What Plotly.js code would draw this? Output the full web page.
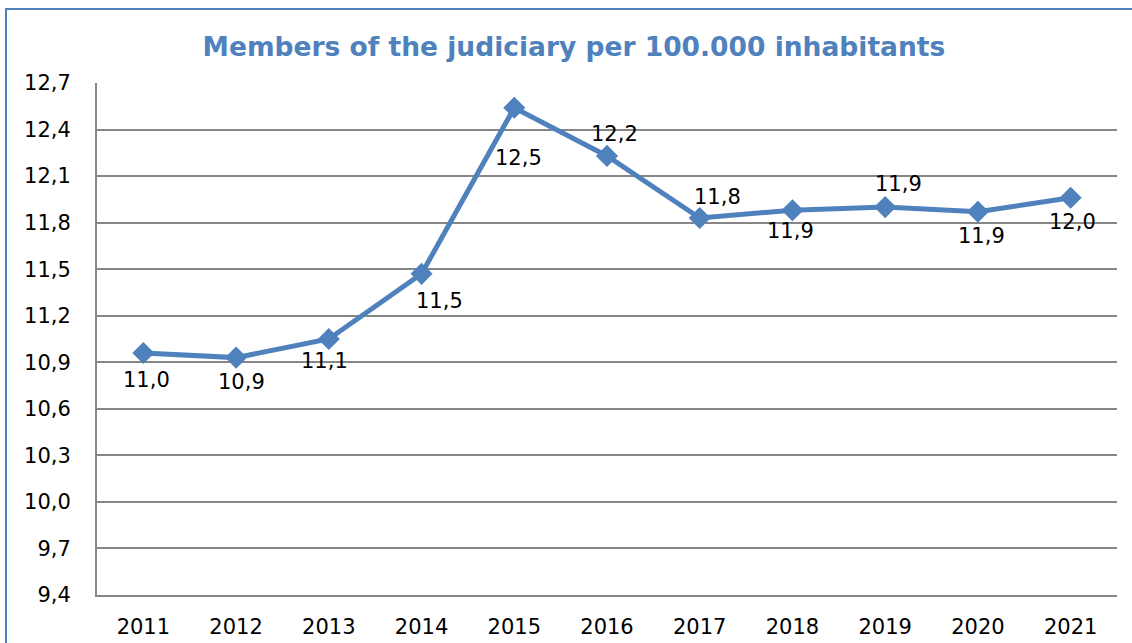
<!DOCTYPE html>
<html>
<head>
<meta charset="utf-8">
<script src="https://cdn.plot.ly/plotly-3.0.1.min.js"></script>
<style>
	html, body { margin: 0; padding: 0; background: white; }
	#chart { width: 1132px; height: 643px; }
</style>
</head>
<body>
<div id="chart"></div>
<script>
// 연도별 값
const years = ["2011", "2012", "2013", "2014", "2015", "2016", "2017", "2018", "2019", "2020", "2021"];
const members = [10.96, 10.93, 11.05, 11.47, 12.54, 12.23, 11.83, 11.88, 11.90, 11.87, 11.96];
const yTicks = [9.4, 9.7, 10.0, 10.3, 10.6, 10.9, 11.2, 11.5, 11.8, 12.1, 12.4, 12.7];

function fmt(v) {
	return v.toFixed(1).replace(".", ",");
}

function drawChart() {
	// 라벨 위치 (픽셀 이동량, 엑셀 원본처럼 점마다 다름)
	const dx = [3, 5, -4, 18, 4, 7, 18, -2, 13, 4, 2];
	const dy = [-27, -24, -22, -27, -50, 22, 21, -21, 23, -24, -24];
	const labels = years.map((yr, i) => ({
		xref: "x",
		yref: "y",
		x: i,
		y: members[i],
		text: fmt(members[i]),
		showarrow: false,
		xshift: dx[i],
		yshift: dy[i],
		font: {family: "DejaVu Sans", size: 21, color: "#000000"}
	}));
	const trace = {
		x: years,
		y: members,
		type: "scatter",
		mode: "lines+markers",
		line: {color: "#4F81BD", width: 5},
		marker: {symbol: "diamond", size: 17, color: "#4F81BD"},
		hoverinfo: "skip"
	};
	const layout = {
		width: 1132,
		height: 643,
		font: {family: "DejaVu Sans", size: 21, color: "#000000"},
		title: {
			text: "<b>Members of the judiciary per 100.000 inhabitants</b>",
			font: {family: "DejaVu Sans", size: 26.5, color: "#4F81BD"},
			x: 0.507, xanchor: "center",
			y: 0.927, yanchor: "middle"
		},
		xaxis: {
			type: "category",
			range: [-0.5, years.length - 0.5],
			showgrid: false,
			showline: true,
			linecolor: "#868686",
			linewidth: 2,
			ticks: "",
			ticklabelstandoff: 12,
			tickfont: {size: 21},
			zeroline: false
		},
		yaxis: {
			range: [9.4, 12.7],
			tickvals: yTicks,
			ticktext: yTicks.map(fmt),
			showgrid: true,
			gridcolor: "#868686",
			gridwidth: 2,
			showline: true,
			linecolor: "#868686",
			linewidth: 2,
			ticks: "",
			ticklabelstandoff: 20,
			tickfont: {size: 21},
			zeroline: false
		},
		annotations: labels,
		shapes: [{
			type: "rect", xref: "paper", yref: "paper",
			x0: (6 - 97) / 1020, x1: 1.05,
			y0: -0.2, y1: 1 + (83 - 9) / 512,
			line: {color: "#4F81BD", width: 2}
		}],
		plot_bgcolor: "white",
		paper_bgcolor: "white",
		showlegend: false,
		margin: {l: 97, r: 15, t: 83, b: 48}
	};
	Plotly.newPlot("chart", [trace], layout, {displayModeBar: false, staticPlot: true});
}

window.addEventListener("DOMContentLoaded", drawChart);
</script>
</body>
</html>
